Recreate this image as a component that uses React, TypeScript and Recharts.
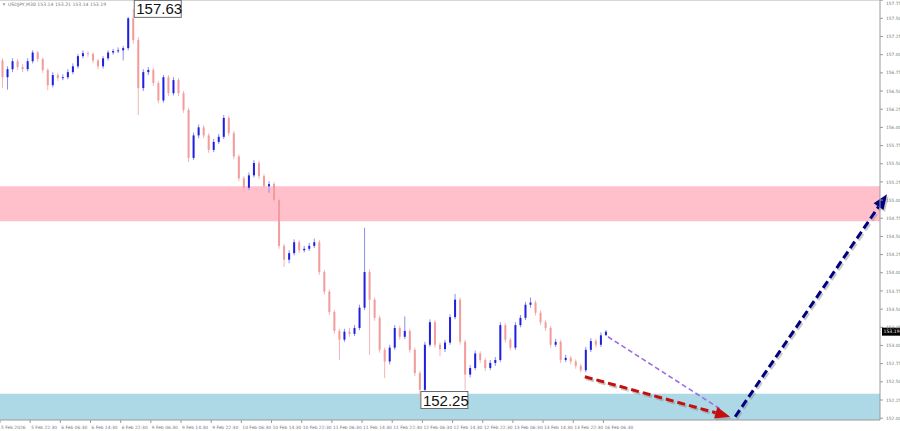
import React from 'react';
import { ComposedChart, Bar, XAxis, YAxis, ReferenceArea, ReferenceLine, ReferenceDot } from 'recharts';

// ---- data (USDJPY M30) ----
const opens = [
  156.92, 156.69, 156.80, 156.91, 156.83, 156.80, 156.91, 157.03, 156.94, 156.79,
  156.58, 156.72, 156.68, 156.69, 156.76, 156.84, 156.98, 157.02, 157.01, 156.92,
  156.84, 156.95, 157.03, 157.05, 157.06, 157.09, 157.50, 157.20, 156.54, 156.76,
  156.79, 156.61, 156.37, 156.69, 156.47, 156.65, 156.47, 156.24, 155.58, 155.89,
  156.00, 155.89, 155.69, 155.80, 155.87, 156.13, 155.92, 155.60, 155.30, 155.17,
  155.34, 155.51, 155.33, 155.19, 155.22, 155.00, 154.37, 154.18, 154.27, 154.42,
  154.31, 154.33, 154.37, 154.42, 154.01, 153.74, 153.46, 153.20, 153.08, 153.19,
  153.16, 153.24, 153.52, 154.01, 153.63, 153.38, 152.94, 152.78, 152.97, 153.24,
  153.12, 153.20, 152.94, 152.62, 152.39, 153.01, 153.32, 153.01, 152.95, 153.04,
  153.39, 153.63, 153.05, 152.60, 152.69, 152.89, 152.80, 152.69, 152.76, 152.80,
  153.28, 153.08, 152.97, 153.28, 153.38, 153.56, 153.59, 153.45, 153.32, 153.24,
  153.01, 153.05, 152.80, 152.83, 152.78, 152.72, 152.66, 152.94, 153.06, 153.01,
  153.14,
];
const closes = [
  156.69, 156.80, 156.91, 156.83, 156.80, 156.91, 157.03, 156.94, 156.79, 156.58,
  156.72, 156.68, 156.69, 156.76, 156.84, 156.98, 157.02, 157.01, 156.92, 156.84,
  156.95, 157.03, 157.05, 157.06, 157.09, 157.50, 157.20, 156.54, 156.76, 156.79,
  156.61, 156.37, 156.69, 156.47, 156.65, 156.47, 156.24, 155.58, 155.89, 156.00,
  155.89, 155.69, 155.80, 155.87, 156.13, 155.92, 155.60, 155.30, 155.17, 155.34,
  155.51, 155.33, 155.19, 155.22, 155.00, 154.37, 154.18, 154.27, 154.42, 154.31,
  154.33, 154.37, 154.42, 154.01, 153.74, 153.46, 153.20, 153.08, 153.19, 153.16,
  153.24, 153.52, 154.01, 153.63, 153.38, 152.94, 152.78, 152.97, 153.24, 153.12,
  153.20, 152.94, 152.62, 152.39, 153.01, 153.32, 153.01, 152.95, 153.04, 153.39,
  153.63, 153.05, 152.60, 152.69, 152.89, 152.80, 152.69, 152.76, 152.80, 153.28,
  153.08, 152.97, 153.28, 153.38, 153.56, 153.59, 153.45, 153.32, 153.24, 153.01,
  153.05, 152.80, 152.83, 152.78, 152.72, 152.66, 152.94, 153.06, 153.01, 153.14,
  153.19,
];
const highs = [
  156.95, 156.84, 156.95, 156.94, 156.87, 156.95, 157.06, 157.05, 156.96, 156.81,
  156.76, 156.75, 156.73, 156.80, 156.88, 157.01, 157.06, 157.05, 157.03, 156.94,
  156.98, 157.06, 157.08, 157.10, 157.12, 157.52, 157.63, 157.24, 156.80, 156.83,
  156.82, 156.64, 156.72, 156.72, 156.69, 156.68, 156.50, 156.27, 155.93, 156.04,
  156.03, 155.92, 155.84, 155.91, 156.17, 156.16, 155.95, 155.63, 155.33, 155.38,
  155.55, 155.54, 155.36, 155.26, 155.25, 155.03, 154.40, 154.31, 154.46, 154.45,
  154.37, 154.41, 154.47, 154.45, 154.04, 153.77, 153.49, 153.23, 153.23, 153.24,
  153.28, 153.56, 154.62, 154.05, 153.66, 153.41, 152.97, 153.01, 153.28, 153.27,
  153.40, 153.23, 152.97, 152.65, 153.05, 153.36, 153.35, 153.04, 153.08, 153.43,
  153.71, 153.66, 153.08, 152.73, 152.93, 152.92, 152.83, 152.80, 152.84, 153.32,
  153.31, 153.11, 153.32, 153.42, 153.60, 153.66, 153.62, 153.48, 153.35, 153.27,
  153.09, 153.08, 152.87, 152.86, 152.81, 152.75, 152.98, 153.10, 153.09, 153.18,
  153.21,
];
const lows = [
  156.54, 156.52, 156.76, 156.79, 156.76, 156.77, 156.88, 156.90, 156.75, 156.51,
  156.55, 156.64, 156.65, 156.66, 156.73, 156.81, 156.95, 156.97, 156.88, 156.80,
  156.81, 156.92, 157.00, 157.02, 156.92, 157.06, 157.15, 156.17, 156.50, 156.72,
  156.57, 156.33, 156.34, 156.43, 156.44, 156.43, 156.20, 155.52, 155.55, 155.85,
  155.85, 155.65, 155.66, 155.77, 155.84, 155.88, 155.56, 155.26, 155.10, 155.14,
  155.31, 155.29, 155.15, 155.10, 154.96, 154.33, 154.08, 154.13, 154.24, 154.27,
  154.28, 154.30, 154.34, 153.97, 153.70, 153.42, 153.16, 152.80, 153.05, 153.12,
  153.13, 153.21, 153.49, 152.87, 153.34, 152.90, 152.55, 152.74, 152.94, 153.08,
  153.09, 152.90, 152.58, 152.25, 152.36, 152.98, 152.97, 152.85, 152.91, 153.01,
  153.36, 153.01, 152.39, 152.56, 152.66, 152.76, 152.65, 152.66, 152.72, 152.77,
  153.04, 152.93, 152.94, 153.25, 153.35, 153.52, 153.41, 153.28, 153.20, 152.97,
  152.98, 152.76, 152.77, 152.74, 152.68, 152.63, 152.63, 152.91, 152.97, 152.98,
  153.14,
];

const xTicks = [0, 6, 12, 18, 24, 30, 36, 42, 48, 54, 60, 66, 72, 78, 84, 90, 96, 102, 108, 114, 120];
const xLabels = [
  '5 Feb 2026', '5 Feb 22:30', '6 Feb 06:30', '6 Feb 14:30', '6 Feb 22:30', '9 Feb 06:30',
  '9 Feb 14:30', '9 Feb 22:30', '10 Feb 06:30', '10 Feb 14:30', '10 Feb 22:30', '11 Feb 06:30',
  '11 Feb 14:30', '11 Feb 22:30', '12 Feb 06:30', '12 Feb 14:30', '12 Feb 22:30', '13 Feb 06:30',
  '13 Feb 14:30', '13 Feb 22:30', '16 Feb 06:30',
];
const yTicks = [
  152.0, 152.25, 152.5, 152.75, 153.0, 153.25, 153.5, 153.75, 154.0, 154.25, 154.5, 154.75,
  155.0, 155.25, 155.5, 155.75, 156.0, 156.25, 156.5, 156.75, 157.0, 157.25, 157.5, 157.75,
];

const yMin = 151.975;
const yMax = 157.752;
const xMax = 175;

const resistanceZone = [154.71, 155.19];
const supportZone = [yMin, 152.335];

const highMark = { idx: 26, price: 157.63 };
const lowMark = { idx: 83, price: 152.25 };
const lastPrice = 153.19;
const title = 'USDJPY,M30  153.14 153.21 153.14 153.19';

// forecast paths [time index, price]
const purplePath = [[120.9, 153.12], [143.6, 152.11]];
const redPath = [[116.3, 152.57], [145.2, 152.02]];
const navyPath = [[146.2, 152.02], [176.4, 155.08]];

const rows = closes.map((c, i) => ({
  t: i + 0.5,
  open: opens[i],
  close: c,
  high: highs[i],
  low: lows[i],
  range: [lows[i], highs[i]],
}));

const BULL = '#1f1fe0';
const BULL_WICK = '#8d8df0';
const BEAR = '#f29c9c';
const BEAR_WICK = '#f5b5b5';

const Candle = (props: any) => {
  const { x, y, width, height, payload } = props;
  if (x == null || y == null) return null;
  const { open, close, high, low } = payload;
  const h = Math.abs(height);
  const top0 = height >= 0 ? y : y + height;
  const span = Math.max(high - low, 0.0001);
  const yOf = (p: number) => top0 + ((high - p) / span) * h;
  const cx = x + width / 2;
  const bull = close >= open;
  const bt = yOf(Math.max(open, close));
  const bb = yOf(Math.min(open, close));
  return (
    <g>
      <line x1={cx} x2={cx} y1={top0} y2={top0 + h} stroke={bull ? BULL_WICK : BEAR_WICK} strokeWidth={1} />
      <rect x={cx - 1} y={bt} width={2} height={Math.max(1, bb - bt)} fill={bull ? BULL : BEAR} />
    </g>
  );
};

const arrowShape = (color: string, w: number, dash: string, head: boolean, shadow: boolean) => (p: any) => {
  const { x1, y1, x2, y2 } = p;
  const ang = Math.atan2(y2 - y1, x2 - x1);
  const L = 15;
  const W = 6;
  const bx = x2 - L * Math.cos(ang);
  const by = y2 - L * Math.sin(ang);
  const px = -Math.sin(ang) * W;
  const py = Math.cos(ang) * W;
  const ex = head ? bx : x2;
  const ey = head ? by : y2;
  return (
    <g>
      {shadow && (
        <line x1={x1 + 1.5} y1={y1 + 2} x2={ex + 1.5} y2={ey + 2} stroke="#8a8a8a" strokeOpacity={0.45}
          strokeWidth={w} strokeDasharray={dash} />
      )}
      {shadow && head && (
        <polygon points={`${x2 + 1.5},${y2 + 2} ${bx + px + 1.5},${by + py + 2} ${bx - px + 1.5},${by - py + 2}`}
          fill="#8a8a8a" fillOpacity={0.45} />
      )}
      <line x1={x1} y1={y1} x2={ex} y2={ey} stroke={color} strokeWidth={w} strokeDasharray={dash} />
      {head && <polygon points={`${x2},${y2} ${bx + px},${by + py} ${bx - px},${by - py}`} fill={color} />}
    </g>
  );
};

const priceBox = (text: string) => (p: any) => {
  const { cx, cy } = p;
  return (
    <g>
      <rect x={cx + 1} y={cy - 8.5} width={47} height={17} fill="#ffffff" stroke="#6b6b6b" strokeWidth={1} />
      <text x={cx + 3} y={cy + 5.5} fontSize={15} fontFamily="Liberation Sans, Arial, sans-serif" fill="#111">
        {text}
      </text>
    </g>
  );
};

const lastPriceShape = (p: any) => {
  const { cx, cy } = p;
  return (
    <g>
      <rect x={cx + 2} y={cy - 4} width={18} height={8} fill="#000" />
      <text x={cx + 3.5} y={cy + 1.7} fontSize={4.6} fontFamily="DejaVu Sans, sans-serif" fill="#fff">
        {lastPrice.toFixed(2)}
      </text>
    </g>
  );
};

const titleShape = (p: any) => {
  const { cx, cy } = p;
  return (
    <g>
      <polygon points={`${cx + 2.5},${cy + 3.5} ${cx + 5.5},${cy + 3.5} ${cx + 4},${cy + 5.5}`} fill="#888" />
      <text x={cx + 8} y={cy + 5.8} fontSize={4.6} fontFamily="DejaVu Sans, sans-serif" fill="#777">
        {title}
      </text>
    </g>
  );
};

const XTick = (props: any) => {
  const { x, y, payload } = props;
  const i = xTicks.indexOf(payload.value);
  return (
    <text x={x + 1} y={y + 3.5} fontSize={4.4} fontFamily="DejaVu Sans, sans-serif" fill="#777" textAnchor="start">
      {xLabels[i]}
    </text>
  );
};

const YTick = (props: any) => {
  const { x, y, payload } = props;
  const ty = Math.max(y + 1.6, 4.5);
  return (
    <text x={x + 1} y={ty} fontSize={4.4} fontFamily="DejaVu Sans, sans-serif" fill="#777" textAnchor="start">
      {Number(payload.value).toFixed(2)}
    </text>
  );
};

const seg = (pts: number[][]) => pts.map(([x, y]) => ({ x, y }));

export default function App() {
  return (
    <div style={{ position: 'absolute', left: 0, top: 0, background: '#fff' }}>
      <ComposedChart width={900} height={431} data={rows} margin={{ top: 0, right: 0, bottom: 0, left: 0 }}>
        <XAxis
          dataKey="t"
          type="number"
          domain={[0, xMax]}
          ticks={xTicks}
          allowDataOverflow
          height={11}
          tick={<XTick />}
          tickLine={{ stroke: '#999' }}
          tickSize={3}
          axisLine={{ stroke: '#9a9a9a' }}
          interval={0}
        />
        <YAxis
          orientation="right"
          type="number"
          domain={[yMin, yMax]}
          ticks={yTicks}
          allowDataOverflow
          width={20}
          tick={<YTick />}
          tickLine={{ stroke: '#999' }}
          tickSize={3}
          axisLine={{ stroke: '#9a9a9a' }}
          interval={0}
        />
        <ReferenceArea y1={resistanceZone[0]} y2={resistanceZone[1]} x1={0} x2={xMax} fill="#ffc0cb" fillOpacity={1} stroke="none" />
        <ReferenceArea y1={supportZone[0]} y2={supportZone[1]} x1={0} x2={xMax} fill="#add8e6" fillOpacity={1} stroke="none" />
        <ReferenceLine y={yMax} stroke="#b0b0b0" strokeWidth={1} />
        <Bar dataKey="range" barSize={3} isAnimationActive={false} shape={Candle} />
        <ReferenceLine segment={seg(purplePath)} ifOverflow="visible"
          shape={arrowShape('#9b6fe3', 1.6, '5 3', false, false)} />
        <ReferenceLine segment={seg(redPath)} ifOverflow="visible"
          shape={arrowShape('#c40f0f', 3, '8 4', true, true)} />
        <ReferenceLine segment={seg(navyPath)} ifOverflow="visible"
          shape={arrowShape('#000080', 3, '8 4', true, true)} />
        <ReferenceDot x={highMark.idx + 0.5} y={highMark.price} ifOverflow="visible" shape={priceBox(highMark.price.toFixed(2))} />
        <ReferenceDot x={lowMark.idx + 0.5} y={lowMark.price} ifOverflow="visible" shape={priceBox(lowMark.price.toFixed(2))} />
        <ReferenceDot x={xMax} y={lastPrice} ifOverflow="visible" shape={lastPriceShape} />
        <ReferenceDot x={0} y={yMax} ifOverflow="visible" shape={titleShape} />
      </ComposedChart>
    </div>
  );
}
